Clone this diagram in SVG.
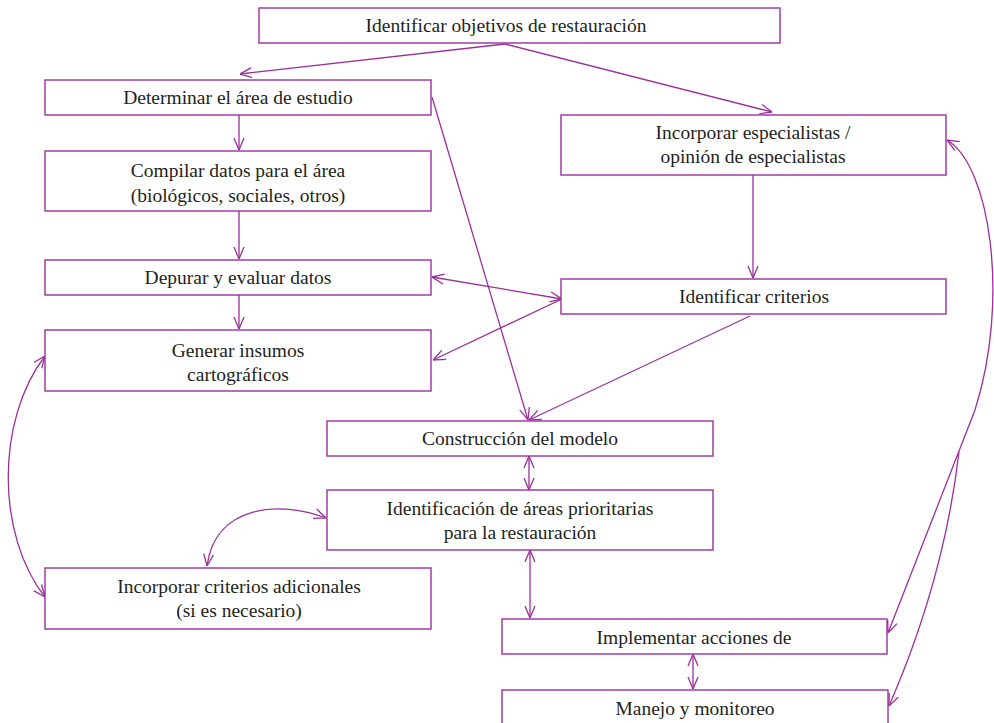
<svg xmlns="http://www.w3.org/2000/svg" width="994" height="723" viewBox="0 0 994 723">
<style>
.box{fill:#fff;stroke:#9b2f9b;stroke-width:1.4}
.t{font-family:"Liberation Serif","Times New Roman",serif;font-size:19.5px;fill:#231f20;text-anchor:middle}
.c{fill:none;stroke:#9b2f9b;stroke-width:1.3}
.e{marker-end:url(#ah)}
.b{marker-start:url(#ah);marker-end:url(#ah)}
</style>
<defs>
<marker id="ah" viewBox="0 0 12 12" refX="12" refY="6" markerWidth="12" markerHeight="12" markerUnits="userSpaceOnUse" orient="auto-start-reverse">
<path d="M0,1 L12,6 L0,11" fill="none" stroke="#9b2f9b" stroke-width="1.3"/>
</marker>
</defs>
<rect width="994" height="723" fill="#fff"/>
<g id="connectors">
<path class="c e" d="M505,44 L240,74"/>
<path class="c e" d="M505,44 L772,112"/>
<path class="c e" d="M239,115 L239,150"/>
<path class="c e" d="M239,211 L239,259"/>
<path class="c e" d="M239,295 L239,329"/>
<path class="c e" d="M432,97 L528,420"/>
<path class="c e" d="M750,316 L529,420"/>
<path class="c b" d="M432,277 L562,299"/>
<path class="c e" d="M562,299 L433,360"/>
<path class="c e" d="M753,175 L753,278"/>
<path class="c b" d="M529,456 L529,490"/>
<path class="c b" d="M530,550 L530,618"/>
<path class="c b" d="M693,654 L693,689"/>
<path class="c b" d="M45,356 C-4,420 -4,535 45,597"/>
<path class="c b" d="M326,518 C280,500 215,505 207,566"/>
<path class="c b" d="M947,140 C990,165 1010,300 975,410 L888,633"/>
<path class="c e" d="M959,452 Q944,580 889,706"/>
</g>
<g id="n1"><rect class="box" x="259" y="8" width="521" height="35"/><text class="t" x="506" y="32">Identificar objetivos de restauración</text></g>
<g id="n2"><rect class="box" x="45" y="80" width="386" height="35"/><text class="t" x="238" y="104">Determinar el área de estudio</text></g>
<g id="n3"><rect class="box" x="45" y="151" width="386" height="60"/><text class="t" x="238" y="177">Compilar datos para el área</text><text class="t" x="238" y="202">(biológicos, sociales, otros)</text></g>
<g id="n4"><rect class="box" x="45" y="260" width="386" height="35"/><text class="t" x="238" y="284">Depurar y evaluar datos</text></g>
<g id="n5"><rect class="box" x="45" y="330" width="386" height="61"/><text class="t" x="238" y="357">Generar insumos</text><text class="t" x="238" y="381">cartográficos</text></g>
<g id="n6"><rect class="box" x="561" y="115" width="385" height="60"/><text class="t" x="753" y="139">Incorporar especialistas /</text><text class="t" x="753" y="163">opinión de especialistas</text></g>
<g id="n7"><rect class="box" x="561" y="279" width="385" height="35"/><text class="t" x="754" y="303">Identificar criterios</text></g>
<g id="n8"><rect class="box" x="327" y="421" width="386" height="35"/><text class="t" x="520" y="445">Construcción del modelo</text></g>
<g id="n9"><rect class="box" x="327" y="490" width="386" height="60"/><text class="t" x="520" y="515">Identificación de áreas prioritarias</text><text class="t" x="520" y="539">para la restauración</text></g>
<g id="n10"><rect class="box" x="45" y="568" width="386" height="61"/><text class="t" x="239" y="593">Incorporar criterios adicionales</text><text class="t" x="239" y="617">(si es necesario)</text></g>
<g id="n11"><rect class="box" x="502" y="619" width="385" height="35"/><text class="t" x="694" y="644">Implementar acciones de</text></g>
<g id="n12"><rect class="box" x="502" y="690" width="386" height="45"/><text class="t" x="695" y="715">Manejo y monitoreo</text></g>
</svg>
